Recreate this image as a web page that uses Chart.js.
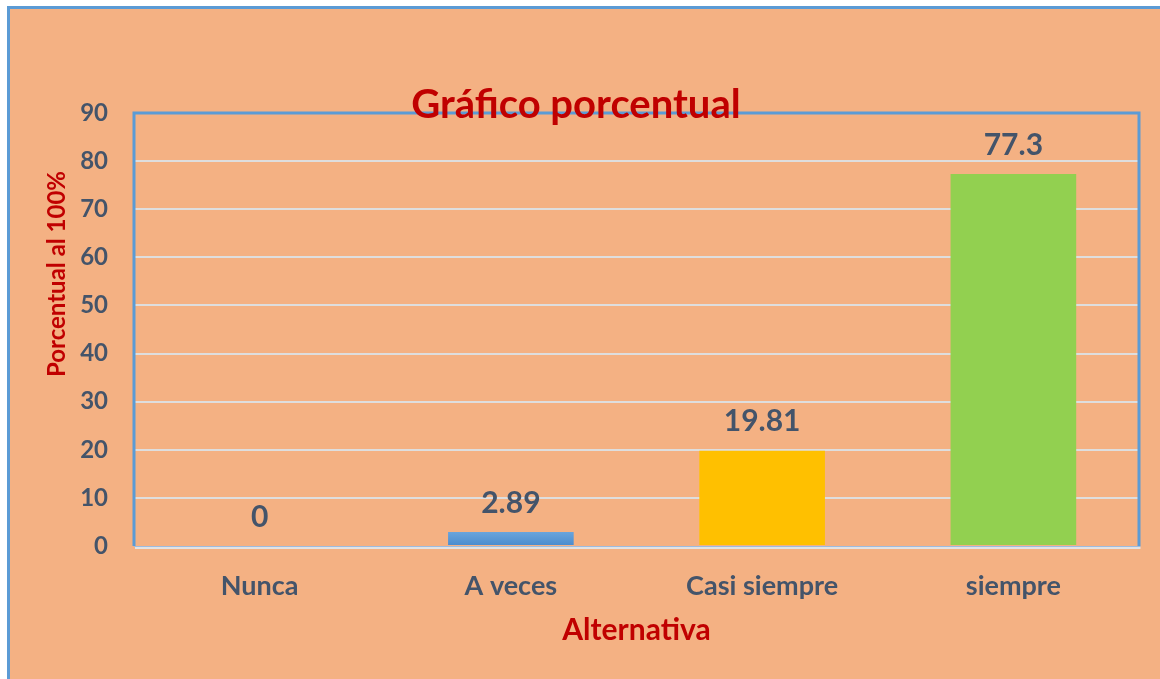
<!DOCTYPE html>
<html>
<head>
<meta charset="utf-8">
<script src="https://cdn.jsdelivr.net/npm/chart.js@4"></script>
<style>
  html, body { margin: 0; padding: 0; background: #ffffff; overflow: hidden; }
  #frame {
    position: absolute; left: 7px; top: 6px; width: 1200px; height: 720px;
    background: #f4b183; border-left: 3px solid #5b9bd5; border-top: 3px solid #5b9bd5;
  }
  #wrap { position: absolute; left: 0; top: 0; width: 1160px; height: 679px; }
</style>
</head>
<body>
<div id="frame"></div>
<div id="wrap"><canvas id="chart" width="1160" height="679"></canvas></div>
<script>
"use strict";

// ── data ──────────────────────────────────────────────────────────────────────
const categories = ["Nunca", "A veces", "Casi siempre", "siempre"];
const percentValues = [0, 2.89, 19.81, 77.3];
const valueLabels = ["0", "2.89", "19.81", "77.3"];
const yTicks = [0, 10, 20, 30, 40, 50, 60, 70, 80, 90];

const FONT = "Lato, 'Open Sans', sans-serif";
const TEXT = "#44546a";
const RED = "#c00000";
const BLUE = "#5b9bd5";

function blueGradient(ctx) {
  const area = ctx.chart.chartArea;
  if (!area) return BLUE;
  const g = ctx.chart.ctx.createLinearGradient(0, area.bottom - 16, 0, area.bottom);
  g.addColorStop(0, "#6ea8de");
  g.addColorStop(1, "#4a8bcd");
  return g;
}

const barColors = [BLUE, null, "#ffc000", "#92d050"];

// ── plugins: frame, value labels, titles ─────────────────────────────────────
const framePlugin = {
  id: "frame",
  afterDatasetsDraw(chart) {
    const { ctx, chartArea: a } = chart;
    ctx.save();
    ctx.strokeStyle = BLUE;
    ctx.lineWidth = 3;
    ctx.beginPath();
    ctx.moveTo(a.left, a.bottom);
    ctx.lineTo(a.left, a.top);
    ctx.lineTo(a.right, a.top);
    ctx.lineTo(a.right, a.bottom);
    ctx.stroke();
    ctx.strokeStyle = "#9dbbe0";
    ctx.lineWidth = 1;
    ctx.beginPath();
    ctx.moveTo(a.left, a.bottom + 0.5);
    ctx.lineTo(a.right + 1.5, a.bottom + 0.5);
    ctx.stroke();
    ctx.strokeStyle = "#e3e3e3";
    ctx.lineWidth = 2;
    ctx.beginPath();
    ctx.moveTo(a.left + 1, a.bottom + 2);
    ctx.lineTo(a.right + 1.5, a.bottom + 2);
    ctx.stroke();
    ctx.restore();
  },
};

const valueLabelPlugin = {
  id: "valueLabels",
  afterDatasetsDraw(chart) {
    const { ctx } = chart;
    const meta = chart.getDatasetMeta(0);
    ctx.save();
    ctx.font = "bold 30px " + FONT;
    ctx.fillStyle = TEXT;
    ctx.textAlign = "center";
    ctx.textBaseline = "middle";
    meta.data.forEach((bar, i) => {
      ctx.fillText(valueLabels[i], bar.x, bar.y - 29);
    });
    ctx.restore();
  },
};

const titlePlugin = {
  id: "bigTitle",
  afterDraw(chart) {
    const { ctx } = chart;
    ctx.save();
    ctx.fillStyle = RED;
    ctx.textAlign = "center";
    ctx.font = "bold 40px " + FONT;
    ctx.textBaseline = "alphabetic";
    ctx.fillText("Gráfico porcentual", 576, 118);
    // y axis title, rotated
    ctx.translate(57, 274);
    ctx.rotate(-Math.PI / 2);
    ctx.font = "bold 24px " + FONT;
    ctx.textBaseline = "middle";
    ctx.fillText("Porcentual al 100%", 0, 0);
    ctx.restore();
  },
};

// ── chart ─────────────────────────────────────────────────────────────────────
new Chart(document.getElementById("chart"), {
  type: "bar",
  data: {
    labels: categories,
    datasets: [{
      data: percentValues,
      backgroundColor: ctx => ctx.dataIndex === 1 ? blueGradient(ctx) : barColors[ctx.dataIndex],
      borderWidth: 0,
      barPercentage: 0.5,
      categoryPercentage: 1.0,
    }],
  },
  options: {
    responsive: false,
    animation: false,
    devicePixelRatio: 1,
    layout: { padding: { left: 0, top: 113, right: 21, bottom: 0 } },
    plugins: { legend: { display: false }, tooltip: { enabled: false } },
    scales: {
      x: {
        grid: { display: false, drawTicks: false },
        border: { display: false },
        ticks: { color: TEXT, font: { family: FONT, size: 27, weight: "bold" }, padding: 24 },
        title: {
          display: true, text: "Alternativa", color: RED,
          font: { family: FONT, size: 30, weight: "bold" },
          padding: { top: 0, bottom: 31 },
        },
        afterFit(scale) { scale.height = 133; },
      },
      y: {
        min: 0, max: 90,
        afterBuildTicks(scale) { scale.ticks = yTicks.map(v => ({ value: v })); },
        grid: {
          color: ctx => ctx.tick && ctx.tick.value === 0 ? "rgba(0,0,0,0)" : "#dedede",
          lineWidth: 2, drawTicks: false,
        },
        border: { display: false },
        ticks: { color: TEXT, font: { family: FONT, size: 24, weight: "bold" }, padding: 26 },
        afterFit(scale) { scale.width = 134; },
      },
    },
  },
  plugins: [framePlugin, valueLabelPlugin, titlePlugin],
});
</script>
</body>
</html>
